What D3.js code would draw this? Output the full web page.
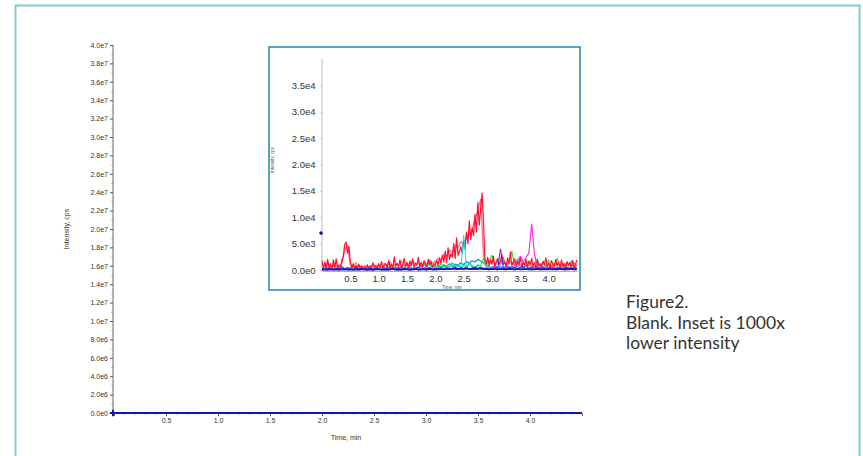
<!DOCTYPE html>
<html>
<head>
<meta charset="utf-8">
<script src="https://cdn.jsdelivr.net/npm/d3@7"></script>
<style>
  html, body { margin: 0; padding: 0; background: #fff; }
  svg { display: block; font-family: "Liberation Sans", Arial, sans-serif; }
</style>
</head>
<body>
<svg id="chart" width="863" height="456"></svg>
<script>
// ---------------- DATA ----------------
const mainYTicks = ["0.0e0","2.0e6","4.0e6","6.0e6","8.0e6","1.0e7","1.2e7","1.4e7","1.6e7","1.8e7","2.0e7",
  "2.2e7","2.4e7","2.6e7","2.8e7","3.0e7","3.2e7","3.4e7","3.6e7","3.8e7","4.0e7"];
const mainYTickValues = [0,2e6,4e6,6e6,8e6,1e7,1.2e7,1.4e7,1.6e7,1.8e7,2e7,2.2e7,2.4e7,2.6e7,2.8e7,3e7,3.2e7,3.4e7,3.6e7,3.8e7,4e7];
const xTickValues = [0.5,1.0,1.5,2.0,2.5,3.0,3.5,4.0];
const xTickLabels = ["0.5","1.0","1.5","2.0","2.5","3.0","3.5","4.0"];
const insetYTickValues = [0,5000,10000,15000,20000,25000,30000,35000];
const insetYTickLabels = ["0.0e0","5.0e3","1.0e4","1.5e4","2.0e4","2.5e4","3.0e4","3.5e4"];
const timeMax = 4.5;
const mainYMax = 4.0e7;
const insetYMax = 4.0e4;
const captionLines = ["Figure2.", "Blank. Inset is 1000x", "lower intensity"];

// Red trace, sampled every 0.025 min (values in kcps)
const redStep = 0.025;
const redK = [
 1.8,0.3,1.5,0.2,2.0,0.4,1.2,0.1,1.9,0.5,2.1,0.3,1.0,
 0.6,1.8,2.5,4.8,5.3,3.2,4.5,1.5,
 0.4,1.2,0.2,0.9,0.3,1.1,0.2,0.8,
 0.1,0.6,0.2,1.0,0.3,0.8,0.2,1.4,0.4,0.9,0.3,1.2,
 0.5,1.6,0.3,0.9,1.2,0.4,1.8,0.6,1.1,0.3,2.5,0.7,1.3,0.5,1.9,0.4,1.0,2.2,0.6,1.4,
 0.3,1.7,0.8,2.1,0.5,1.3,0.9,2.4,0.6,1.5,0.4,1.8,1.1,0.7,2.0,0.9,1.6,0.5,1.2,1.0,
 1.8,0.9,2.3,1.2,2.8,1.5,3.6,1.4,4.2,2.0,3.1,2.4,5.0,2.2,6.1,2.8,
 3.5,4.4,3.2,5.6,4.0,7.2,5.0,9.3,5.8,8.0,6.5,10.5,7.2,12.8,8.5,11.6,14.6,9.0,
 2.0,1.2,2.4,0.8,1.9,1.1,2.6,0.7,1.5,2.2,0.9,1.8,2.9,1.0,1.6,0.6,2.3,1.2,3.4,0.8,
 1.4,2.1,0.7,1.7,1.0,2.5,0.6,1.3,0.9,2.0,0.5,1.6,1.1,2.2,0.7,1.4,0.4,1.9,0.8,1.2,
 0.5,1.7,0.9,2.3,0.6,1.3,0.4,1.8,1.0,0.6,2.0,0.8,1.5,0.3,1.9,0.7,1.2,0.5,1.6,0.9,1.4,0.6,1.8,0.4,1.2,1.9
];
// Second (lighter) red trace, every 0.05 min (kcps)
const step05 = 0.05;
const pinkRedK = [
 1.2,0.6,1.4,0.5,1.0,0.8,0.4,1.2,3.8,4.6,1.0,0.7,0.3,0.9,0.5,0.8,0.4,0.6,1.1,0.5,
 0.9,0.4,1.3,0.7,1.6,0.6,1.1,0.9,1.7,0.8,1.4,0.7,1.9,1.0,1.3,0.8,1.5,1.1,1.9,1.3,
 1.6,2.2,1.9,3.0,2.6,3.8,3.3,4.6,4.2,5.4,5.0,6.4,6.9,7.6,9.8,11.2,13.4,2.6,1.6,1.2,
 1.9,0.9,1.5,1.1,2.0,0.8,1.3,1.6,0.9,1.2,0.7,1.5,1.0,0.8,1.3,0.6,1.1,0.9,1.4,0.7,
 1.0,0.6,1.3,0.8,1.1,0.5,1.2,0.9,0.7,1.3,1.0
];
const greenK = [
 0.2,0.1,0.3,0.1,0.2,0.4,0.1,0.2,0.3,0.1,0.2,0.1,0.3,0.2,0.1,0.4,0.2,0.1,0.3,0.2,
 0.1,0.2,0.5,0.1,0.3,0.2,0.1,0.4,0.2,0.3,0.1,0.6,0.2,0.4,0.1,0.3,
 1.2,0.3,1.8,0.5,0.9,0.4,1.1,0.6,0.8,0.5,1.4,0.7,1.0,0.4,0.9,0.6,1.3,0.8,0.5,1.0,0.7,
 2.2,0.8,1.6,2.8,0.9,1.9,1.2,2.4,0.6,1.5,3.5,1.0,2.0,0.7,1.3,0.9,1.8,0.5,1.2,2.1,
 0.6,1.4,0.8,1.9,0.5,1.0,2.2,0.6,1.3,0.4,1.1,1.7,0.5,0.9
];
const skyK = [
 0.3,0.6,0.2,0.5,0.8,0.3,0.4,0.7,0.2,0.5,0.3,0.6,0.4,0.2,0.5,0.3,0.7,0.4,0.2,0.6,
 0.3,0.5,0.2,0.4,0.6,0.3,0.5,0.2,0.7,0.4,0.3,0.6,0.2,0.5,0.4,0.8,0.3,0.6,0.4,0.9,
 0.5,0.8,0.4,1.0,0.6,1.2,0.7,1.1,0.9,1.4,1.0,1.6,1.3,1.8,1.5,2.0,1.7,1.4,0.8,0.6,
 0.5,0.9,0.4,0.7,0.3,0.8,0.5,0.6,0.3,0.7,0.4,0.5,0.8,0.3,0.6,0.4,0.7,0.3,0.5,0.6,
 0.4,0.8,0.3,0.5,0.4,0.6,0.3,0.5,0.4,0.6,0.3
];
const cyanK = [
 0.2,0.4,0.1,0.3,0.2,0.5,0.1,0.3,0.2,0.4,0.1,0.2,0.3,0.1,0.4,0.2,0.1,0.3,0.2,0.4,
 0.1,0.3,0.2,0.1,0.4,0.2,0.3,0.1,0.2,0.5,0.1,0.3,0.2,0.4,0.1,0.3,0.6,0.2,0.4,0.3,
 0.5,0.2,0.7,0.3,0.6,0.4,0.9,0.5,0.7,0.4,6.6,0.6,1.0,0.6,0.4,0.7,0.3,0.5,0.2,0.4,
 0.3,0.2,0.4,0.1,0.3,0.2,0.4,0.1,0.3,0.2,0.1,0.3,0.2,0.4,0.1,0.2,0.3,0.1,0.2,0.4,
 0.1,0.3,0.2,0.1,0.3,0.2,0.1,0.2,0.3,0.1,0.2
];
const magentaK = [
 0.1,0.2,0.1,0.0,0.2,0.1,0.3,0.1,0.0,0.2,0.1,0.1,0.2,0.0,0.1,0.3,0.1,0.2,0.0,0.1,
 0.2,0.1,0.0,0.2,0.1,0.3,0.1,0.0,0.2,0.1,0.1,0.2,0.0,0.1,0.2,0.1,0.3,0.1,0.2,0.0,
 0.1,0.2,0.1,0.3,0.2,0.1,0.4,0.2,0.1,0.3,0.2,0.4,0.1,0.3,0.2,0.1,0.4,0.2,0.3,0.1,
 0.4,0.2,0.5,0.3,0.2,0.6,0.3,0.4,0.8,1.8,2.6,1.5,2.4,3.2,8.7,3.0,0.6,0.3,0.5,0.2,
 0.4,0.1,0.3,0.2,0.4,0.1,0.2,0.3,0.1,0.2,0.1
];
const blueK = [
 0.3,0.1,0.4,0.2,0.1,0.3,0.2,0.5,0.1,0.3,0.2,0.1,0.4,0.2,0.3,0.1,0.2,0.4,0.1,0.3,
 0.2,0.1,0.3,0.2,0.5,0.1,0.2,0.3,0.1,0.4,0.2,0.1,0.3,0.2,0.6,0.1,0.3,0.2,0.4,0.1,
 0.3,0.2,0.5,0.1,0.4,0.2,0.3,0.6,0.2,0.4,0.3,0.5,0.2,0.4,0.6,0.3,0.5,0.2,0.4,0.3,
 0.2,0.5,0.3,4.0,0.4,0.2,0.6,0.3,0.5,0.2,0.4,0.7,0.2,0.3,0.5,0.2,0.4,0.3,0.6,0.2,
 0.3,0.5,0.2,0.4,0.3,0.2,0.5,0.3,0.2,0.4,0.3
];
const orangeK = [
 0.0,0.1,0.0,0.2,0.0,0.1,0.3,0.0,0.2,0.1,0.5,0.2,1.5,0.3,0.1,0.0,0.2,0.1,0.0,0.3,
 0.1,0.0,0.2,0.1,0.0,0.2,0.1,0.3,0.0,0.1,0.2,0.0,0.1,0.3,0.0,0.2,0.1,0.0,0.2,0.1,
 0.0,0.3,0.1,0.2,0.0,0.1,0.2,0.0,0.1,0.2,0.0,0.1,0.3,0.0,0.2,0.1,0.0,0.2,0.1,0.0,
 0.2,0.1,0.0,0.3,0.1,0.0,0.2,0.1,0.0,0.2,0.1,0.0,0.3,0.1,0.0,0.2,0.1,0.0,0.2,0.1,
 0.0,0.2,0.1,0.0,0.3,0.1,0.0,0.2,0.1,0.0,0.1
];
const navyK = [
 0.05,0.1,0.05,0.15,0.05,0.1,0.05,0.1,0.15,0.05,0.1,0.05,0.1,0.05,0.15,0.1,0.05,0.1,0.05,0.1,
 0.15,0.05,0.1,0.05,0.1,0.2,0.05,0.1,0.05,0.15,0.1,0.05,0.1,0.2,0.05,0.1,0.15,0.05,0.2,0.1,
 0.15,0.1,0.2,0.1,0.25,0.15,0.2,0.3,0.15,0.25,0.2,0.3,0.15,0.2,0.25,0.2,0.3,0.15,0.2,0.1,
 0.2,0.15,0.1,0.2,0.15,0.1,0.2,0.15,0.1,0.2,0.1,0.15,0.2,0.1,0.15,0.1,0.2,0.1,0.15,0.1,
 0.2,0.1,0.15,0.1,0.2,0.1,0.15,0.1,0.2,0.1,0.15
];
// marker points (time, cps)
const mainMarker = [0, 0];
const insetMarker = [0, 7000];

// ---------------- BUILD ----------------
function toSeries(arr, step) {
  return arr.map((v, i) => ({ t: i * step, y: v * 1000 }));
}
const series = [
  { name: "orange", color: "#ff8c00", width: 1, data: toSeries(orangeK, step05) },
  { name: "sky", color: "#1e9bff", width: 1.4, data: toSeries(skyK, step05) },
  { name: "green", color: "#22dd22", width: 1.1, data: toSeries(greenK, step05) },
  { name: "pinkred", color: "#ff7090", width: 1.3, data: toSeries(pinkRedK, step05) },
  { name: "red", color: "#ff1133", width: 1.2, data: toSeries(redK, redStep) },
  { name: "cyan", color: "#19dede", width: 1, data: toSeries(cyanK, step05) },
  { name: "magenta", color: "#ff22ee", width: 1.1, data: toSeries(magentaK, step05) },
  { name: "blue", color: "#3322ee", width: 1, data: toSeries(blueK, step05) },
  { name: "navy", color: "#1515b0", width: 1.8, data: toSeries(navyK, step05) }
];

const svg = d3.select("#chart");

// outer frame
svg.append("rect").attr("x", 15.5).attr("y", 5.5).attr("width", 844).attr("height", 470)
  .attr("fill", "none").attr("stroke", "#7ccbd4").attr("stroke-width", 2);

// ---- main chart ----
const mx = d3.scaleLinear().domain([0, timeMax]).range([114, 582]);
const my = d3.scaleLinear().domain([0, mainYMax]).range([413, 45]);

const mainG = svg.append("g");
const yAxis = d3.axisLeft(my).tickValues(mainYTickValues)
  .tickFormat((d, i) => mainYTicks[i]).tickSize(3).tickPadding(2);
const yg = mainG.append("g").attr("transform", "translate(113,0)").call(yAxis);
yg.select(".domain").attr("stroke", "#666").attr("d", `M0,${my(mainYMax)}V${my(0)}`);
yg.selectAll(".tick line").attr("stroke", "#555");
yg.selectAll("text").attr("font-size", 7).attr("fill", "#333");
mainG.append("g").attr("transform", "translate(113,0)")
  .call(d3.axisLeft(my).tickValues(d3.range(1e6, mainYMax, 2e6)).tickSize(1.5).tickFormat(""))
  .call(g => g.select(".domain").remove())
  .selectAll("line").attr("stroke", "#888");

const xAxis = d3.axisBottom(mx).tickValues(xTickValues)
  .tickFormat((d, i) => xTickLabels[i]).tickSize(3).tickPadding(2);
const xg = mainG.append("g").attr("transform", "translate(0,413)").call(xAxis);
xg.select(".domain").attr("stroke", "#666");
xg.selectAll(".tick line").attr("stroke", "#555");
xg.selectAll("text").attr("font-size", 7).attr("fill", "#333");
mainG.append("g").attr("transform", "translate(0,413)")
  .call(d3.axisBottom(mx).tickValues(d3.range(0.1, timeMax, 0.1)).tickSize(1.5).tickFormat(""))
  .call(g => g.select(".domain").remove())
  .selectAll("line").attr("stroke", "#888");

mainG.append("text").attr("x", 346).attr("y", 440).attr("text-anchor", "middle")
  .attr("font-size", 7).attr("fill", "#333").text("Time, min");
mainG.append("text").attr("transform", "translate(69,229) rotate(-90)").attr("text-anchor", "middle")
  .attr("font-size", 7).attr("fill", "#333").text("Intensity, cps");

const mainLine = d3.line().x(d => mx(d.t)).y(d => my(d.y));
series.forEach(s => {
  mainG.append("path").datum(s.data).attr("d", mainLine)
    .attr("fill", "none").attr("stroke", s.color).attr("stroke-width", s.name === "navy" ? 2 : 1);
});
mainG.append("path").attr("d", d3.symbol(d3.symbolCross, 22)())
  .attr("transform", `translate(${mx(mainMarker[0]) - 1},${my(mainMarker[1])})`).attr("fill", "#1515b0");

// ---- inset ----
const insetBox = { x: 269, y: 47, w: 311, h: 243 };
svg.append("rect").attr("x", insetBox.x).attr("y", insetBox.y).attr("width", insetBox.w).attr("height", insetBox.h)
  .attr("fill", "#fff").attr("stroke", "#2f8db5").attr("stroke-width", 1.6);

const ix = d3.scaleLinear().domain([0, timeMax]).range([322, 577]);
const iy = d3.scaleLinear().domain([0, insetYMax]).range([270, 59]);
const insG = svg.append("g");

const iyAxis = d3.axisLeft(iy).tickValues(insetYTickValues)
  .tickFormat((d, i) => insetYTickLabels[i]).tickSize(1.5).tickPadding(5);
const iyg = insG.append("g").attr("transform", "translate(322,0)").call(iyAxis);
iyg.select(".domain").attr("stroke", "#aaa").attr("stroke-width", 0.8).attr("d", `M0,${iy(insetYMax)}V${iy(0)}`);
iyg.selectAll(".tick line").attr("stroke", "#bbb");
iyg.selectAll("text").attr("font-size", 9.5).attr("fill", "#333");

const ixAxis = d3.axisBottom(ix).tickValues(xTickValues)
  .tickFormat((d, i) => xTickLabels[i]).tickSize(0).tickPadding(4);
const ixg = insG.append("g").attr("transform", "translate(0,271)").call(ixAxis);
ixg.select(".domain").attr("stroke", "#999").attr("stroke-width", 0.8);
ixg.selectAll("text").attr("font-size", 9.5).attr("fill", "#333");

insG.append("text").attr("x", 452).attr("y", 288.5).attr("text-anchor", "middle")
  .attr("font-size", 4.5).attr("fill", "#555").text("Time, min");
insG.append("text").attr("transform", "translate(274,160) rotate(-90)").attr("text-anchor", "middle")
  .attr("font-size", 4.5).attr("fill", "#555").text("Intensity, cps");

const insLine = d3.line().x(d => ix(d.t)).y(d => iy(d.y));
series.forEach(s => {
  insG.append("path").datum(s.data).attr("d", insLine)
    .attr("fill", "none").attr("stroke", s.color).attr("stroke-width", s.width)
    .attr("stroke-linejoin", "round");
});
insG.append("circle").attr("cx", ix(insetMarker[0]) - 1).attr("cy", iy(insetMarker[1])).attr("r", 1.8).attr("fill", "#1515b0");

// ---- caption ----
const cap = svg.append("text").attr("x", 626).attr("y", 308)
  .style("font-family", "Lato, 'Noto Sans', sans-serif").attr("font-size", 17.5).attr("fill", "#333");
captionLines.forEach((l, i) => {
  cap.append("tspan").attr("x", 626).attr("y", 308 + i * 20.5).text(l);
});
</script>
</body>
</html>
